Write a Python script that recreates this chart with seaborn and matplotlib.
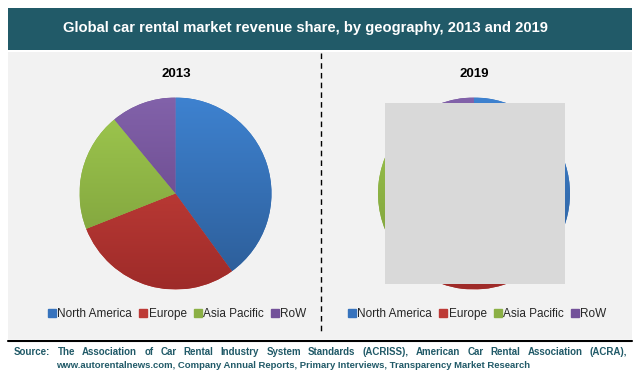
import matplotlib
matplotlib.use("Agg")
import matplotlib.pyplot as plt
from matplotlib.patches import Rectangle
from matplotlib.lines import Line2D
from matplotlib.colors import to_rgb
import numpy as np
import seaborn as sns

# data
regions = ["North America", "Europe", "Asia Pacific", "RoW"]
share_2013 = [40, 29, 20, 11]
share_2019 = [38, 28, 22, 12]
years = ["2013", "2019"]
title = "Global car rental market revenue share, by geography, 2013 and 2019"
source_line1 = ("Source: The Association of Car Rental Industry System Standards (ACRISS), "
                "American Car Rental Association (ACRA),")
source_line2 = ("www.autorentalnews.com, Company Annual Reports, Primary Interviews, "
                "Transparency Market Research")

sns.set_theme(style="white")
plt.rcParams['font.family'] = ['Liberation Sans', 'DejaVu Sans']

colors = sns.color_palette(["#3773bd", "#bd3a36", "#8bb045", "#73519a"])
tops = ["#3e82d0", "#d2463f", "#9fc94f", "#8262aa"]
bottoms = ["#2c5c96", "#9e2b29", "#799a39", "#603f80"]
teal = "#215a68"

W, H = 640, 375
fig = plt.figure(figsize=(W / 100, H / 100), dpi=100)
fig.patch.set_facecolor("white")


def px(x, y):
    return x / W, 1 - y / H


# title bar
fig.patches.append(Rectangle(px(8, 50), 624 / W, 42 / H, transform=fig.transFigure,
                             facecolor=teal, edgecolor="none", zorder=-2))
fig.text(*px(305, 28), title, color="white", fontsize=10.6, fontweight="bold",
         ha="center", va="center")

# panel
fig.patches.append(Rectangle(px(8, 339), 624 / W, 287 / H, transform=fig.transFigure,
                             facecolor="#f2f2f2", edgecolor="none", zorder=-2))
fig.lines.append(Line2D([8 / W, 632 / W], [1 - 340.5 / H] * 2, transform=fig.transFigure,
                        color="black", lw=1.5))
fig.lines.append(Line2D([321 / W] * 2, [1 - 53 / H, 1 - 332 / H], transform=fig.transFigure,
                        color="black", lw=1, ls=(0, (4, 3))))

centers = [(175.5, 193.5), (474, 193.5)]
legend_x = [177, 477]
grad = np.linspace(0, 1, 256)[:, None]
for i, (yr, vals) in enumerate(zip(years, [share_2013, share_2019])):
    cx, cy = centers[i]
    r = 96
    ax = fig.add_axes([(cx - r) / W, 1 - (cy + r) / H, 2 * r / W, 2 * r / H])
    ax.patch.set_alpha(0)
    wedges, _ = ax.pie(vals, colors=colors, startangle=90, counterclock=False,
                       wedgeprops=dict(linewidth=0))
    for w, t, b in zip(wedges, tops, bottoms):
        t, b = np.array(to_rgb(t)), np.array(to_rgb(b))
        img = t[None, None, :] * (1 - grad[..., None]) + b[None, None, :] * grad[..., None]
        im = ax.imshow(np.repeat(img, 2, axis=1), extent=(-1, 1, -1, 1), origin="upper",
                       aspect="auto", zorder=2)
        im.set_clip_path(w)
    ax.set_xlim(-1, 1)
    ax.set_ylim(-1, 1)
    ax.set_aspect("auto")
    ax.axis("off")
    fig.text(*px(cx + 0.5, 74), yr, fontsize=9.5, fontweight="bold", ha="center", va="center",
             color="black")
    handles = [Line2D([], [], marker="s", ls="none", color=c, markersize=5.5) for c in colors]
    fig.legend(handles, regions, loc="center", bbox_to_anchor=px(legend_x[i], 314),
               ncol=4, frameon=False, fontsize=8.5, handletextpad=0.05, columnspacing=0.55,
               handlelength=0.8)

# placeholder box over 2019 pie
fig.patches.append(Rectangle(px(385, 284), 180 / W, 181 / H, transform=fig.transFigure,
                             facecolor="#d9d9d9", edgecolor="none", zorder=5))

# source, justified first line
fig.canvas.draw()
renderer = fig.canvas.get_renderer()
words = source_line1.split(" ")
texts = [fig.text(0, 1 - 352 / H, w, fontsize=7, fontweight="bold", color=teal,
                  va="center", ha="left") for w in words]
widths = [t.get_window_extent(renderer).width for t in texts]
x0, x1 = 14, 627
gap = (x1 - x0 - sum(widths)) / (len(words) - 1)
x = x0
for t, w in zip(texts, widths):
    t.set_x(x / W)
    x += w + gap
fig.text(*px(56, 365), source_line2, fontsize=6.8, fontweight="bold", color=teal,
         va="center", ha="left")

fig.savefig("out.png", dpi=100)
